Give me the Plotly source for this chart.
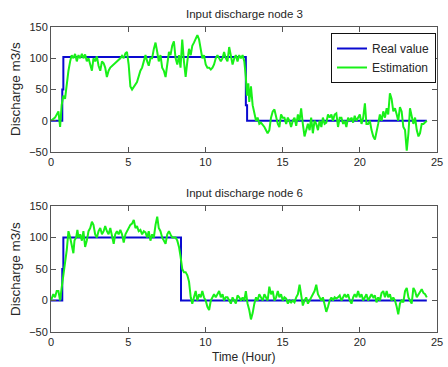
import plotly.graph_objects as go

# Node 3: real (step) input and estimated discharge, m3/s vs hours
real3_t = [0, 0.73, 0.73, 0.8, 0.8, 12.62, 12.62, 12.7, 12.7, 24.34]
real3_q = [0, 0, 50, 50, 102, 102, 25, 25, 0, 0]

est3_t = [0.00, 0.26, 0.48, 0.59, 0.69, 0.80, 0.91, 1.02, 1.13, 1.24, 1.34, 1.45, 1.56, 1.67, 1.78,
          1.89, 2.00, 2.10, 2.21, 2.32, 2.43, 2.54, 2.65, 2.75, 2.86, 2.97, 3.08, 3.19, 3.30, 3.41,
          3.51, 3.62, 3.73, 3.84, 4.06, 4.27, 4.49, 4.60, 4.71, 4.82, 4.92, 5.03, 5.14, 5.25, 5.36,
          5.57, 5.79, 5.90, 6.01, 6.12, 6.23, 6.33, 6.44, 6.55, 6.66, 6.77, 6.88, 6.98, 7.09, 7.20,
          7.31, 7.42, 7.53, 7.64, 7.74, 7.85, 7.96, 8.07, 8.18, 8.29, 8.39, 8.50, 8.61, 8.72, 8.83,
          8.94, 9.05, 9.15, 9.26, 9.37, 9.48, 9.59, 9.70, 9.80, 9.91, 10.02, 10.13, 10.24, 10.35,
          10.46, 10.56, 10.67, 10.78, 10.89, 11.00, 11.11, 11.21, 11.32, 11.43, 11.54, 11.65, 11.76,
          11.87, 11.97, 12.08, 12.19, 12.30, 12.41, 12.52, 12.62, 12.69, 12.78, 12.84, 12.95, 13.06,
          13.17, 13.28, 13.38, 13.49, 13.60, 13.82, 14.03, 14.14, 14.25, 14.36, 14.47, 14.58, 14.69,
          14.79, 14.90, 15.01, 15.12, 15.23, 15.34, 15.44, 15.55, 15.66, 15.77, 15.88, 15.99, 16.10,
          16.20, 16.31, 16.42, 16.53, 16.64, 16.75, 16.85, 16.96, 17.07, 17.18, 17.29, 17.40, 17.51,
          17.61, 17.72, 17.83, 17.94, 18.05, 18.16, 18.26, 18.37, 18.48, 18.59, 18.70, 18.81, 18.92,
          19.02, 19.13, 19.24, 19.35, 19.46, 19.57, 19.67, 19.78, 19.89, 20.00, 20.11, 20.22, 20.33,
          20.43, 20.54, 20.65, 20.76, 20.87, 20.98, 21.08, 21.19, 21.30, 21.41, 21.52, 21.63, 21.74,
          21.84, 21.95, 22.06, 22.17, 22.28, 22.39, 22.49, 22.60, 22.71, 22.82, 22.93, 23.04, 23.15,
          23.25, 23.36, 23.47, 23.58, 23.69, 23.80, 23.90, 24.01, 24.12, 24.34]
est3_q = [0, 5, 15, -10, 25, 40, 35, 60, 80, 95, 105, 100, 107, 95, 105,
          100, 107, 100, 106, 95, 100, 90, 80, 100, 95, 103, 88, 80, 95, 92,
          85, 70, 80, 85, 90, 95, 100, 104, 100, 108, 110, 90, 55, 50, 55,
          62, 80, 85, 95, 105, 95, 88, 100, 100, 115, 125, 110, 95, 105, 85,
          80, 70, 90, 110, 105, 120, 127, 100, 90, 105, 85, 130, 95, 70, 95,
          115, 105, 120, 125, 130, 137, 130, 115, 100, 105, 90, 85, 85, 82,
          85, 90, 100, 105, 100, 95, 100, 110, 100, 95, 118, 100, 90,
          100, 105, 95, 105, 100, 105, 95, 70, 40, 60, 30, 55, 25,
          10, 0, 5, -5, -3, -10, -20, -15, 5, 15, 18, 5, -5,
          -10, 10, 5, 5, -5, 5, 0, -10, 0, 5, -8, 10, 0,
          20, -5, -25, -15, -5, -15, 5, -20, 0, -5, -15, 0, -10,
          5, -5, -3, 10, 5, 10, 0, 10, 12, -10, 5, 5, -5,
          0, -10, 5, 0, 5, -3, 8, 0, 5, 10, -5, 5, 28,
          -5, -5, 0, -15, -25, -30, -15, -5, 10, 0, 15, 5, 20,
          10, 44, 35, 15, 20, 10, 0, 22, 15, -10, -15, -48, -20,
          20, 5, -5, 5, -15, -25, -20, -5, -5, 0]

# Node 6
real6_t = [0, 0.73, 0.73, 0.8, 0.8, 8.42, 8.42, 24.34]
real6_q = [0, 0, 50, 50, 100, 100, 0, 0]

est6_t = [0.00, 0.15, 0.26, 0.37, 0.48, 0.59, 0.69, 0.80, 0.91, 1.02, 1.13, 1.24, 1.34, 1.45, 1.52,
          1.63, 1.71, 1.78, 1.89, 2.00, 2.10, 2.21, 2.32, 2.43, 2.54, 2.65, 2.75, 2.86, 2.97, 3.08,
          3.19, 3.30, 3.41, 3.51, 3.62, 3.73, 3.84, 3.95, 4.06, 4.16, 4.27, 4.38, 4.49, 4.60, 4.71,
          4.82, 4.92, 5.03, 5.14, 5.25, 5.36, 5.47, 5.57, 5.68, 5.79, 5.90, 6.01, 6.12, 6.23, 6.33,
          6.44, 6.55, 6.66, 6.77, 6.88, 6.98, 7.09, 7.20, 7.31, 7.42, 7.53, 7.64, 7.74, 7.85, 7.96,
          8.07, 8.18, 8.29, 8.39, 8.50, 8.61, 8.72, 8.83, 8.94, 9.05, 9.15, 9.26, 9.37, 9.48, 9.59,
          9.70, 9.80, 9.91, 10.02, 10.13, 10.24, 10.35, 10.46, 10.56, 10.67, 10.78, 10.89, 11.00,
          11.11, 11.21, 11.32, 11.43, 11.54, 11.65, 11.76, 11.87, 11.97, 12.08, 12.19, 12.30, 12.41,
          12.52, 12.62, 12.73, 12.84, 12.95, 13.06, 13.17, 13.28, 13.38, 13.49, 13.60, 13.71, 13.82,
          13.93, 14.03, 14.14, 14.25, 14.36, 14.47, 14.58, 14.69, 14.79, 14.90, 15.01, 15.12, 15.23,
          15.34, 15.44, 15.55, 15.66, 15.77, 15.88, 15.99, 16.10, 16.20, 16.31, 16.42, 16.53, 16.64,
          16.75, 16.85, 16.96, 17.07, 17.18, 17.29, 17.40, 17.51, 17.61, 17.72, 17.83, 17.94, 18.05,
          18.16, 18.26, 18.37, 18.48, 18.59, 18.70, 18.81, 18.92, 19.02, 19.13, 19.24, 19.35, 19.46,
          19.57, 19.67, 19.78, 19.89, 20.00, 20.11, 20.22, 20.33, 20.43, 20.54, 20.65, 20.76, 20.87,
          20.98, 21.08, 21.19, 21.30, 21.41, 21.52, 21.63, 21.74, 21.84, 21.95, 22.06, 22.17, 22.28,
          22.39, 22.49, 22.60, 22.71, 22.82, 22.93, 23.04, 23.15, 23.25, 23.36, 23.47, 23.58, 23.69,
          23.80, 23.90, 24.01, 24.12, 24.23, 24.34]
est6_q = [0, 10, 5, 15, 15, 0, 20, 45, 60, 80, 110, 100, 85, 75, 95,
          100, 112, 100, 105, 95, 110, 85, 95, 110, 115, 125, 120, 105, 100, 110,
          115, 105, 110, 118, 110, 105, 115, 100, 90, 105, 110, 105, 112, 105, 92,
          105, 110, 115, 120, 122, 128, 115, 118, 110, 112, 105, 110, 108, 100, 110,
          95, 105, 100, 120, 133, 115, 110, 100, 95, 90, 105, 110, 105, 100, 100,
          100, 95, 85, 70, 50, 45, 45, 40, 30, 5, -5, 5, 15, 0, 10,
          5, 15, 5, 0, -10, -15, 0, 5, 10, 5, 10, 15, 5,
          10, 0, 5, 5, 0, -5, 5, 0, -5, 8, 5, 0, 5,
          0, 15, -5, -15, -30, -20, -5, 5, 0, 10, 5, 0, 10,
          5, 0, 22, 10, 15, 0, 5, 15, 5, 10, 0, 5, 3,
          -5, 0, -3, 0, -3, 5, 10, 25, 5, -8, 0, 5, -5,
          0, 5, 10, 15, 25, 10, 5, 0, 5, -5, -18, -10, 0,
          5, 0, 5, 3, 5, 8, 0, 5, 10, 5, 10, 0, -5,
          5, 10, 5, 15, 5, 10, 0, 5, 10, 0, 5, 10, 5,
          8, -3, 5, 0, 12, 15, 5, 15, 5, 10, 0, 5, 0,
          -10, -22, -5, 0, -3, 15, 20, 5, 0, -5, 20, 15, 5,
          10, 15, 18, 12, 10, 5]

panel_titles = ["Input discharge node 3", "Input discharge node 6"]
y_label = "Discharge m3/s"
x_label = "Time (Hour)"
x_ticks = [0, 5, 10, 15, 20, 25]
y_ticks = [-50, 0, 50, 100, 150]

W, H = 448, 367
BLUE = "#0a0ad0"
GREEN = "#18f018"
TXT = "#262626"
FONT = "Liberation Sans, Arial, sans-serif"

fig = go.Figure()

fig.add_trace(go.Scatter(x=real3_t, y=real3_q, mode="lines", name="Real value",
                         line=dict(color=BLUE, width=2), xaxis="x", yaxis="y"))
fig.add_trace(go.Scatter(x=est3_t, y=est3_q, mode="lines", name="Estimation",
                         line=dict(color=GREEN, width=2), xaxis="x", yaxis="y"))
fig.add_trace(go.Scatter(x=real6_t, y=real6_q, mode="lines", showlegend=False,
                         line=dict(color=BLUE, width=2), xaxis="x2", yaxis="y2"))
fig.add_trace(go.Scatter(x=est6_t, y=est6_q, mode="lines", showlegend=False,
                         line=dict(color=GREEN, width=2), xaxis="x2", yaxis="y2"))

# axes placed in pixels, matlab-like boxed axes with inner ticks
xdom = [51 / W, 437 / W]
ydom_top = [1 - 152 / H, 1 - 27 / H]
ydom_bot = [1 - 332 / H, 1 - 206 / H]

axis_style = dict(
    showline=True, linecolor="#555555", linewidth=1, mirror="ticks",
    ticks="inside", ticklen=5, tickcolor="#555555", showgrid=False, zeroline=False,
    tickfont=dict(family=FONT, size=11, color=TXT),
    automargin=False, ticklabeloverflow="allow",
)

fig.update_layout(
    width=W, height=H,
    margin=dict(l=0, r=0, t=0, b=0),
    paper_bgcolor="white", plot_bgcolor="white",
    font=dict(family=FONT, size=11, color=TXT),
    xaxis=dict(domain=xdom, anchor="y", range=[0, 25], tickvals=x_ticks, **axis_style),
    yaxis=dict(domain=ydom_top, anchor="x", range=[-50, 150], tickvals=y_ticks, **axis_style),
    xaxis2=dict(domain=xdom, anchor="y2", range=[0, 25], tickvals=x_ticks, **axis_style),
    yaxis2=dict(domain=ydom_bot, anchor="x2", range=[-50, 150], tickvals=y_ticks, **axis_style),
    legend=dict(
        x=436 / W, y=1 - 33 / H, xanchor="right", yanchor="top",
        bgcolor="white", bordercolor="#111111", borderwidth=1,
        font=dict(family=FONT, size=12, color=TXT),
        tracegroupgap=0, itemwidth=30,
    ),
)

cx = (xdom[0] + xdom[1]) / 2
annos = [
    dict(text=panel_titles[0], x=cx, y=1 - 14 / H, font=dict(size=11.5)),
    dict(text=panel_titles[1], x=cx, y=1 - 193 / H, font=dict(size=11.5)),
    dict(text=y_label, x=15 / W, y=1 - 89 / H, textangle=-90, font=dict(size=13.5)),
    dict(text=y_label, x=15 / W, y=1 - 269 / H, textangle=-90, font=dict(size=13.5)),
    dict(text=x_label, x=cx, y=1 - 357 / H, font=dict(size=12)),
]
for a in annos:
    fig.add_annotation(xref="paper", yref="paper", showarrow=False,
                       xanchor="center", yanchor="middle", **a)

# page body has a default 8px margin; drop it so the figure fills the window
fig.write_html("out.html", config={"displayModeBar": False},
               post_script="document.body.style.margin='0';")
